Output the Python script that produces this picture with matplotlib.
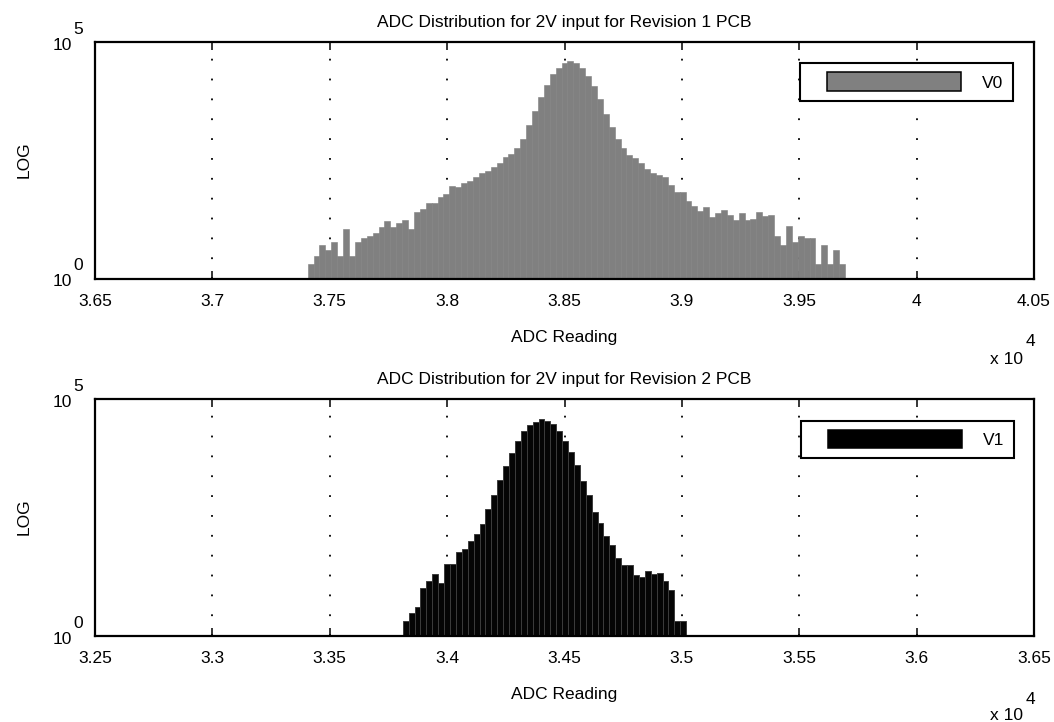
import numpy as np
import matplotlib
matplotlib.use("Agg")
import matplotlib.pyplot as plt
import matplotlib.transforms as mtransforms
from matplotlib.patches import Rectangle
from matplotlib.legend_handler import HandlerPatch
from matplotlib.ticker import NullLocator

plt.rcParams['font.family'] = ['Liberation Sans', 'DejaVu Sans']
FS = 12.5

# ---------------- data ----------------
# Revision 1 PCB histogram counts (91 bins)
top_counts = [2, 3, 5, 4, 6, 3, 11, 3, 6, 7,
              8, 9, 12, 16, 12, 15, 17, 11, 25, 29,
              39, 39, 52, 61, 90, 84, 102, 113, 141, 172,
              189, 230, 279, 362, 425, 569, 896, 1785, 3360, 6800,
              12200, 20500, 28200, 35500, 39100, 35500, 27400, 19300, 11600, 6080,
              2970, 1556, 868, 569, 412, 350, 270, 208, 166, 156,
              137, 93, 67, 67, 43, 34, 27, 32, 20, 24,
              28, 22, 17, 24, 17, 18, 25, 21, 22, 8,
              5, 13, 6, 8, 7, 7, 2, 5, 2, 4,
              2]
top_first_edge = 37406.0

# Revision 2 PCB histogram counts (48 bins)
bottom_counts = [2, 3, 4, 10, 14, 20, 13, 33, 33, 58,
                 66, 100, 138, 225, 459, 935, 1909, 3767, 7200, 12900,
                 20300, 28000, 33000, 36400, 34600, 29900, 20300, 12900, 7430, 3890,
                 1848, 906, 403, 240, 126, 83, 43, 31, 31, 19,
                 17, 23, 20, 21, 14, 9, 2, 2]
bottom_first_edge = 33811.0

bin_width = 25.15

top_xtick_labels = ['3.65', '3.7', '3.75', '3.8', '3.85', '3.9', '3.95', '4', '4.05']
bottom_xtick_labels = ['3.25', '3.3', '3.35', '3.4', '3.45', '3.5', '3.55', '3.6', '3.65']
ytick_values = [1, 1e5]
ytick_exponents = ['0', '5']
x_exponent = '4'

titles = ['ADC Distribution for 2V input for Revision 1 PCB',
          'ADC Distribution for 2V input for Revision 2 PCB']
x_label = 'ADC Reading'
y_label = 'LOG'
series_labels = ['V0', 'V1']

# ---------------- figure ----------------
fig = plt.figure(figsize=(10.54, 7.22), dpi=100)
W, H = 1054.0, 722.0
ax_left, ax_w, ax_h = 95 / W, 939 / W, 236.8 / H
ax_top = fig.add_axes([ax_left, 1 - 278.5 / H, ax_w, ax_h])
ax_bot = fig.add_axes([ax_left, 1 - 635.5 / H, ax_w, ax_h])


def gap_patch(legend, orig_handle, xdescent, ydescent, width, height, fontsize):
    gap = 12.0
    h = 13.2
    return Rectangle((-xdescent + gap, -ydescent + (height - h) / 2.0), width - gap, h)


def draw_panel(ax, counts, first_edge, xtick_labels, title, label,
               face, edge, ew, leg_face, leg_anchor):
    edges = first_edge + bin_width * np.arange(len(counts))
    ax.bar(edges, counts, width=bin_width, align='edge', color=face,
           edgecolor=edge, linewidth=ew, zorder=2)
    ax.set_yscale('log', nonpositive='clip')
    ax.set_ylim(1, 1e5)
    xt = [float(s) * 1e4 for s in xtick_labels]
    ax.set_xlim(xt[0], xt[-1])
    ax.set_xticks(xt)
    ax.set_xticklabels(xtick_labels, fontsize=FS)
    ax.set_yticks(ytick_values)
    ax.set_yticklabels(['', ''])
    ax.yaxis.set_minor_locator(NullLocator())
    ax.xaxis.set_minor_locator(NullLocator())
    ax.tick_params(axis='x', direction='in', top=True, bottom=True,
                   length=5.5, width=1.1, pad=11.0, colors='black')
    ax.tick_params(axis='y', length=0)
    for sp in ax.spines.values():
        sp.set_linewidth(1.6)
        sp.set_color('black')
        sp.set_zorder(5)
    ax.xaxis.grid(True, linestyle=(0, (1, 10)), color='black', linewidth=1.3)
    ax.set_axisbelow(True)

    ax.set_title(title, fontsize=FS, pad=10.4)
    ax.set_xlabel(x_label, fontsize=FS)
    ax.xaxis.set_label_coords(0.5, -0.217)
    ax.set_ylabel(y_label, fontsize=FS)
    ax.yaxis.set_label_coords(-0.067, 0.5)

    # MATLAB-style log tick labels: "10" with raised exponent
    bt = mtransforms.blended_transform_factory(ax.transAxes, ax.transData)
    for v, e in zip(ytick_values, ytick_exponents):
        ax.annotate('10', xy=(0, v), xycoords=bt, xytext=(-23, -8),
                    textcoords='offset pixels', ha='right', va='baseline',
                    fontsize=FS, annotation_clip=False)
        ax.annotate(e, xy=(0, v), xycoords=bt, xytext=(-22, 8),
                    textcoords='offset pixels', ha='left', va='baseline',
                    fontsize=FS, annotation_clip=False)
    # axis multiplier "x 10^4"
    ax.annotate('x 10', xy=(1, 0), xycoords='axes fraction', xytext=(-11, -85),
                textcoords='offset pixels', ha='right', va='baseline', fontsize=FS,
                annotation_clip=False)
    ax.annotate(x_exponent, xy=(1, 0), xycoords='axes fraction', xytext=(-8, -68),
                textcoords='offset pixels', ha='left', va='baseline', fontsize=FS,
                annotation_clip=False)

    proxy = Rectangle((0, 0), 1, 1, facecolor=leg_face, edgecolor='black',
                      linewidth=1.1, joinstyle='round')
    leg = ax.legend([proxy], [label], loc='upper right', bbox_to_anchor=leg_anchor,
                    borderaxespad=0, fontsize=FS, borderpad=0.59,
                    handlelength=8.68, handleheight=1.06, handletextpad=1.18,
                    fancybox=False, framealpha=1, edgecolor='black',
                    handler_map={Rectangle: HandlerPatch(patch_func=gap_patch)})
    leg.get_frame().set_linewidth(1.5)
    leg.set_zorder(6)


draw_panel(ax_top, top_counts, top_first_edge, top_xtick_labels, titles[0],
           series_labels[0], '#808080', '#808080', 0.4, '#808080', (0.978, 0.909))
draw_panel(ax_bot, bottom_counts, bottom_first_edge, bottom_xtick_labels, titles[1],
           series_labels[1], '#050505', '#3c3c3c', 0.7, 'black', (0.979, 0.907))

fig.savefig('out.png', dpi=100)
